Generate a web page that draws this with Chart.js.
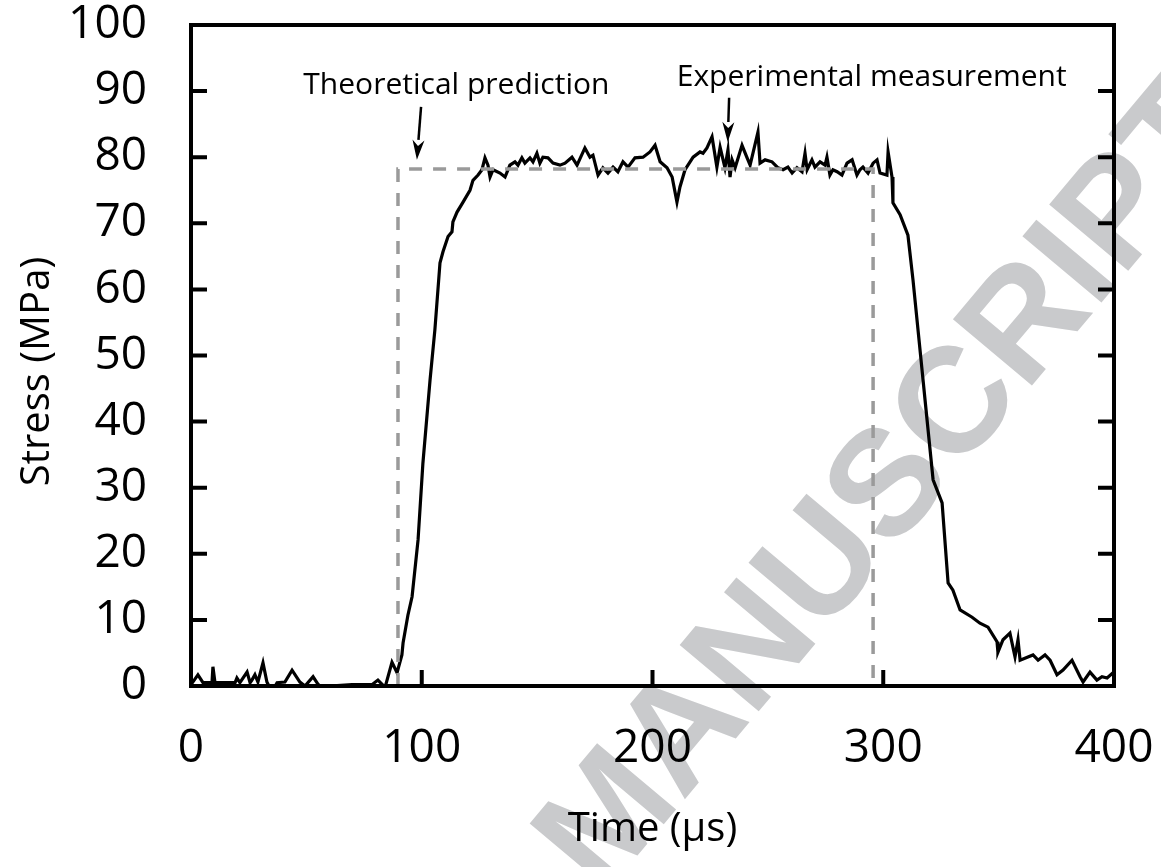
<!DOCTYPE html>
<html>
<head>
<meta charset="utf-8">
<script src="https://cdn.jsdelivr.net/npm/chart.js@4/dist/chart.umd.min.js"></script>
<style>
  html, body { margin: 0; padding: 0; background: #ffffff; }
  #wrap { width: 1161px; height: 867px; position: relative; }
</style>
</head>
<body>
<div id="wrap"><canvas id="c" width="1161" height="867"></canvas></div>
<script>
// ---- Data ----
const time = [0.0,3.0,5.2,9.1,9.5,10.4,19.1,19.9,21.2,24.3,25.6,26.4,27.7,29.0,31.2,32.9,35.1,37.3,40.7,43.8,47.2,49.4,52.9,55.0,57.2,60.2,69.8,78.4,81.0,84.1,87.1,89.3,91.4,
  91.9,94.0,95.8,98.4,100.5,103.6,105.7,107.9,109.2,111.4,113.1,113.5,115.3,117.9,120.9,122.2,124.4,126.1,127.4,128.7,129.6,130.9,133.9,136.1,138.2,140.4,141.7,143.4,144.7,146.9,148.2,149.9,151.2,152.5,154.7,156.9,159.9,162.1,165.1,167.3,170.7,172.9,174.2,176.4,178.5,180.7,182.9,185.0,187.2,189.4,192.4,195.9,198.9,201.1,203.3,206.3,208.5,210.6,211.9,214.1,217.6,220.6,221.9,223.6,225.8,227.9,229.3,231.4,232.7,233.6,234.5,235.8,238.8,241.0,242.3,245.7,246.6,248.8,251.8,254.4,256.6,258.7,260.5,262.6,264.8,266.1,267.0,269.1,270.4,272.6,274.8,275.6,276.9,278.2,280.0,282.1,284.3,286.5,288.6,289.9,291.2,293.4,295.6,297.3,298.6,301.6,302.1,303.8,304.2,307.3,310.7,312.9,319.0,321.6,325.5,328.1,330.2,333.3,338.5,341.9,345.4,349.3,349.7,351.9,354.9,357.1,358.4,359.3,362.7,364.9,367.1,370.1,372.3,375.3,377.9,381.8,385.3,386.6,389.6,392.6,394.8,397.0,399.6];
const stress = [0.2,1.7,0.5,0.5,2.9,0.5,0.5,1.2,0.5,2.1,0.5,0.9,1.7,0.6,3.5,0.6,-0.9,0.5,0.6,2.4,0.6,0,1.4,0.3,-0.6,0,0.2,0.2,0.9,-0.2,3.6,2.0,4.7,
  6.5,10.7,13.5,22.1,33.7,46.3,53.9,64.0,65.7,68.0,68.7,70.2,71.7,73.2,75.0,76.5,77.3,78.1,79.9,78.8,77.0,78.1,77.6,77.0,78.8,79.3,78.8,79.9,79.1,79.9,79.3,80.6,79.1,80.0,79.9,79.1,78.8,79.1,80.0,78.8,81.4,80.0,80.3,77.3,78.4,77.6,78.5,77.8,79.3,78.5,79.9,80.0,80.8,81.8,79.3,78.4,77.0,73.2,75.5,78.1,80.0,80.8,80.6,81.4,83.1,78.5,81.5,78.4,81.1,77.0,79.6,78.4,81.8,79.9,78.8,83.8,79.1,79.6,79.3,78.4,78.1,78.5,77.6,78.4,77.8,80.6,78.1,79.6,78.5,79.3,78.8,80.0,77.3,78.1,77.8,77.3,79.1,79.6,77.3,78.1,78.5,77.6,79.1,79.6,77.6,77.3,80.8,77.0,73.1,71.3,68.2,61.4,40.2,31.2,27.7,15.6,14.5,11.5,10.4,9.5,8.9,6.7,5.1,7.0,8.0,4.4,7.0,3.9,4.4,4.7,3.9,4.7,3.9,1.7,2.4,3.9,1.4,0.6,2.1,0.9,1.4,1.2,2.0];

const theoryTime = [89.7, 89.7, 295.6, 295.6];
const theoryStress = [0, 78.2, 78.2, 0];

const xTicks = [0, 100, 200, 300, 400];
const yTicks = [0, 10, 20, 30, 40, 50, 60, 70, 80, 90, 100];

const labelTexts = ['Theoretical prediction', 'Experimental measurement'];
const labelTime = [115.0, 295.0];
const labelStress = [90.8, 92.0];
const arrowTailTime = [99.7, 233.2];
const arrowTailStress = [87.6, 89.0];
const arrowTipTime = [97.9, 232.6];
const arrowTipStress = [79.6, 82.3];

const xTitle = 'Time (μs)';
const yTitle = 'Stress (MPa)';
const watermark = 'MANUSCRIPT';

// ---- Plugins ----
const decor = {
  id: 'decor',
  beforeDraw(chart) {
    const ctx = chart.ctx;
    ctx.save();
    ctx.translate(892, 488);
    ctx.rotate(-50 * Math.PI / 180);
    ctx.font = 'bold 150px "Liberation Sans", Arial, sans-serif';
    ctx.fillStyle = '#c9cacc';
    ctx.textAlign = 'center';
    ctx.textBaseline = 'middle';
    ctx.fillText(watermark, 0, 0);
    ctx.restore();
  },
  afterDraw(chart) {
    const ctx = chart.ctx;
    const xs = chart.scales.x, ys = chart.scales.y;
    const a = chart.chartArea;
    ctx.save();
    ctx.strokeStyle = '#000';
    ctx.lineWidth = 4;
    ctx.lineCap = 'butt';
    ctx.strokeRect(a.left, a.top, a.right - a.left, a.bottom - a.top);
    const tl = 16;
    ctx.beginPath();
    yTicks.forEach(v => {
      if (v === 0 || v === 100) return;
      const py = ys.getPixelForValue(v);
      ctx.moveTo(a.left, py); ctx.lineTo(a.left + tl, py);
      ctx.moveTo(a.right, py); ctx.lineTo(a.right - tl, py);
    });
    xTicks.forEach(v => {
      if (v === 0 || v === 400) return;
      const px = xs.getPixelForValue(v);
      ctx.moveTo(px, a.bottom); ctx.lineTo(px, a.bottom - tl);
    });
    ctx.stroke();

    // y axis title (slightly below the plot centre, as in the reference)
    ctx.save();
    ctx.translate(38, (a.top + a.bottom) / 2 + 16);
    ctx.rotate(-Math.PI / 2);
    ctx.fillStyle = '#000';
    ctx.font = '40px "Open Sans", sans-serif';
    ctx.textAlign = 'center';
    ctx.textBaseline = 'middle';
    ctx.fillText(yTitle, 0, 0);
    ctx.restore();

    // annotations
    ctx.fillStyle = '#000';
    ctx.font = '30px "Open Sans", sans-serif';
    ctx.textAlign = 'center';
    ctx.textBaseline = 'middle';
    labelTexts.forEach((t, i) => {
      ctx.fillText(t, xs.getPixelForValue(labelTime[i]), ys.getPixelForValue(labelStress[i]));
    });
    for (let i = 0; i < arrowTailTime.length; i++) {
      const x0 = xs.getPixelForValue(arrowTailTime[i]), y0 = ys.getPixelForValue(arrowTailStress[i]);
      const x1 = xs.getPixelForValue(arrowTipTime[i]), y1 = ys.getPixelForValue(arrowTipStress[i]);
      const ang = Math.atan2(y1 - y0, x1 - x0);
      const hl = 20, hw = 6;
      const bx = x1 - hl * Math.cos(ang), by = y1 - hl * Math.sin(ang);
      ctx.lineWidth = 2.5;
      ctx.beginPath();
      ctx.moveTo(x0, y0); ctx.lineTo(bx, by);
      ctx.stroke();
      ctx.beginPath();
      ctx.moveTo(x1, y1);
      ctx.lineTo(bx + hw * Math.sin(ang), by - hw * Math.cos(ang));
      ctx.lineTo(bx + 0.3 * hl * Math.cos(ang), by + 0.3 * hl * Math.sin(ang));
      ctx.lineTo(bx - hw * Math.sin(ang), by + hw * Math.cos(ang));
      ctx.closePath();
      ctx.fill();
    }
    ctx.restore();
  }
};

const measured = time.map((t, i) => ({ x: t, y: stress[i] }));
const theory = theoryTime.map((t, i) => ({ x: t, y: theoryStress[i] }));

new Chart(document.getElementById('c'), {
  type: 'line',
  data: {
    datasets: [
      {
        label: 'Theoretical prediction',
        data: theory,
        borderColor: '#9a9a9a',
        borderWidth: 3.5,
        borderDash: [13, 11],
        pointRadius: 0,
        tension: 0,
        fill: false
      },
      {
        label: 'Experimental measurement',
        data: measured,
        borderColor: '#000000',
        borderWidth: 3.2,
        pointRadius: 0,
        tension: 0,
        fill: false,
        borderJoinStyle: 'miter'
      }
    ]
  },
  options: {
    responsive: false,
    animation: false,
    layout: { padding: { top: 25, right: 47, left: 0, bottom: 0 } },
    plugins: { legend: { display: false }, tooltip: { enabled: false } },
    scales: {
      x: {
        type: 'linear',
        min: 0, max: 400,
        grid: { display: false, drawTicks: false },
        border: { display: false },
        afterBuildTicks: s => { s.ticks = xTicks.map(v => ({ value: v })); },
        ticks: {
          color: '#000',
          padding: 40,
          maxRotation: 0,
          font: { family: '"Open Sans", sans-serif', size: 46, lineHeight: 1.0 }
        },
        title: {
          display: true, text: xTitle, color: '#000',
          font: { family: '"Open Sans", sans-serif', size: 40, lineHeight: 1.2 },
          padding: { top: 0, bottom: 13 }
        },
        afterFit: s => { s.height = 181; s.paddingLeft = 0; s.paddingRight = 0; s.paddingTop = 0; s.paddingBottom = 0; }
      },
      y: {
        type: 'linear',
        min: 0, max: 100,
        grid: { display: false, drawTicks: false },
        border: { display: false },
        afterBuildTicks: s => { s.ticks = yTicks.map(v => ({ value: v })); },
        ticks: {
          color: '#000',
          padding: 44,
          font: { family: '"Open Sans", sans-serif', size: 46, lineHeight: 1.0 }
        },
        title: { display: false, text: yTitle },
        afterFit: s => { s.width = 191; s.paddingLeft = 0; s.paddingRight = 0; s.paddingTop = 0; s.paddingBottom = 0; }
      }
    }
  },
  plugins: [decor]
});
</script>
</body>
</html>
